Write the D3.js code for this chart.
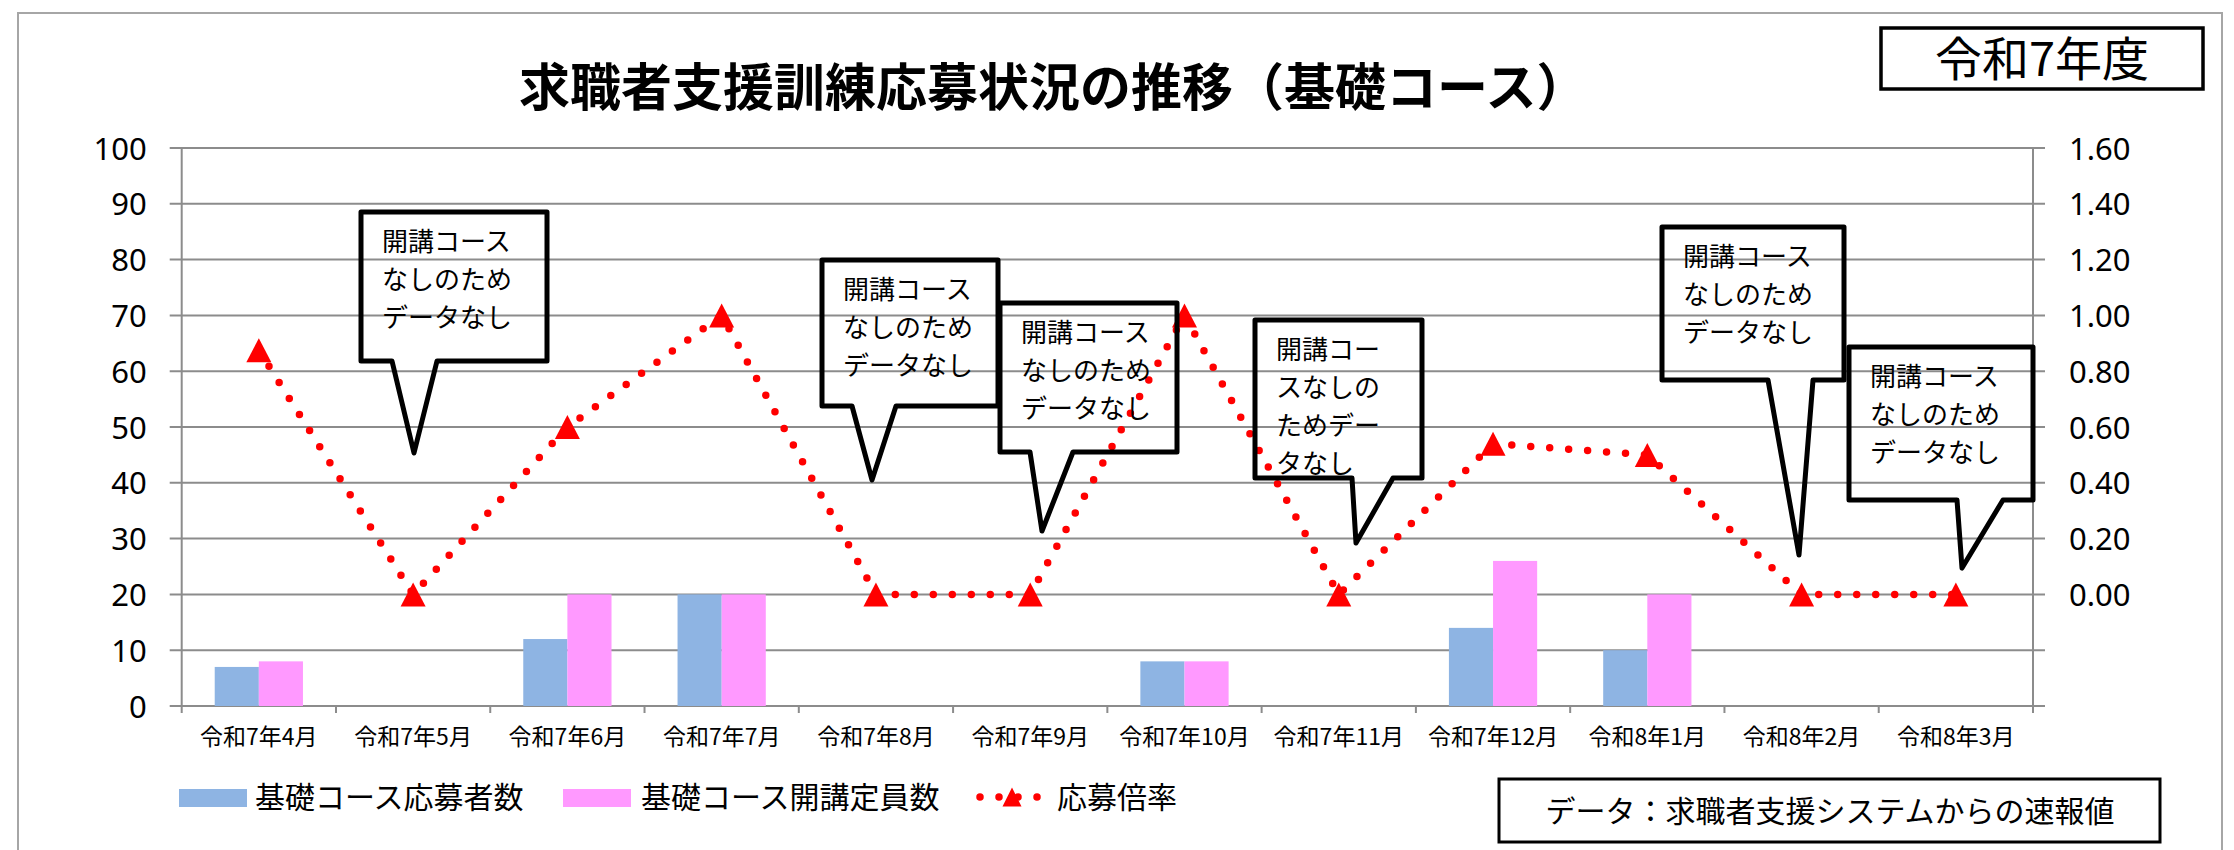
<!DOCTYPE html>
<html>
<head>
<meta charset="utf-8">
<script src="https://cdn.jsdelivr.net/npm/d3@7"></script>
<style>
  body { margin: 0; background: #fff; }
  text { font-family: "Noto Sans CJK JP", "Noto Sans", sans-serif; fill: #000; }
</style>
</head>
<body>
<div id="chart"></div>
<script>
// data
const months = ["令和7年4月", "令和7年5月", "令和7年6月", "令和7年7月", "令和7年8月", "令和7年9月",
  "令和7年10月", "令和7年11月", "令和7年12月", "令和8年1月", "令和8年2月", "令和8年3月"];
const applicants = [7, null, 12, 20, null, null, 8, null, 14, 10, null, null];
const capacity = [8, null, 20, 20, null, null, 8, null, 26, 20, null, null];
const ratio = [0.875, 0, 0.6, 1.0, 0, 0, 1.0, 0, 0.54, 0.5, 0, 0];
const leftTicks = [0, 10, 20, 30, 40, 50, 60, 70, 80, 90, 100];
const rightTicks = [0, 0.2, 0.4, 0.6, 0.8, 1.0, 1.2, 1.4, 1.6];
const seriesNames = ["基礎コース応募者数", "基礎コース開講定員数", "応募倍率"];
const noDataText = ["開講コース", "なしのため", "データなし"];
const noDataText4 = ["開講コー", "スなしの", "ためデー", "タなし"];

// callout boxes (annotation layout): box [x0,y0,x1,y1], pointer base [b0,b1], tip [x,y]
const callouts = [
  { box: [361, 212, 547, 361], base: [392, 437], tip: [414, 453], lines: noDataText },
  { box: [822, 260, 998, 406], base: [852, 896], tip: [872, 480], lines: noDataText },
  { box: [1000, 303, 1177, 452], base: [1030, 1073], tip: [1042, 531], lines: noDataText },
  { box: [1255, 320, 1422, 478], base: [1352, 1393], tip: [1356, 543], lines: noDataText4 },
  { box: [1662, 227, 1844, 380], base: [1768, 1813], tip: [1799, 555], lines: noDataText },
  { box: [1849, 347, 2033, 500], base: [1957, 2003], tip: [1962, 568], lines: noDataText },
];

const width = 2234, height = 850;
const plotLeft = 181.7, plotRight = 2033, plotTop = 148, plotBottom = 706;

const svg = d3.select("#chart").append("svg")
  .attr("width", width).attr("height", height);

svg.append("rect").attr("width", width).attr("height", height).attr("fill", "#fff");

// outer chart frame
svg.append("rect")
  .attr("x", 18).attr("y", 13).attr("width", 2222 - 18).attr("height", 900)
  .attr("fill", "none").attr("stroke", "#a6a6a6").attr("stroke-width", 2);

const x = d3.scaleBand().domain(months).range([plotLeft, plotRight]).padding(0);
const bw = x.bandwidth();
const x1 = d3.scaleBand().domain([0, 1]).range([bw * 0.214, bw * 0.786]).padding(0);
const yL = d3.scaleLinear().domain([0, 100]).range([plotBottom, plotTop]);
const yR = d3.scaleLinear().domain([-0.4, 1.6]).range([plotBottom, plotTop]);

// gridlines
svg.append("g").selectAll("line").data(leftTicks).enter().append("line")
  .attr("x1", plotLeft - 12).attr("x2", plotRight + 12)
  .attr("y1", (d) => yL(d)).attr("y2", (d) => yL(d))
  .attr("stroke", "#8c8c8c").attr("stroke-width", 2);

// axis lines + category ticks
svg.append("line").attr("x1", plotLeft).attr("x2", plotLeft).attr("y1", plotTop).attr("y2", plotBottom + 7)
  .attr("stroke", "#8c8c8c").attr("stroke-width", 2);
svg.append("line").attr("x1", plotRight).attr("x2", plotRight).attr("y1", plotTop).attr("y2", plotBottom + 7)
  .attr("stroke", "#8c8c8c").attr("stroke-width", 2);
svg.append("g").selectAll("line").data(months.slice(1)).enter().append("line")
  .attr("x1", (d) => x(d)).attr("x2", (d) => x(d))
  .attr("y1", plotBottom).attr("y2", plotBottom + 7)
  .attr("stroke", "#8c8c8c").attr("stroke-width", 2);

// left axis labels
const axL = svg.append("g").attr("transform", `translate(${plotLeft},0)`)
  .call(d3.axisLeft(yL).tickValues(leftTicks).tickSize(0).tickPadding(35));
axL.select(".domain").remove();
axL.selectAll("text").attr("font-size", 31).attr("dy", "0.36em")
  .style("font-family", "'Noto Sans', sans-serif");

// right axis labels
const axR = svg.append("g").attr("transform", `translate(${plotRight},0)`)
  .call(d3.axisRight(yR).tickValues(rightTicks).tickFormat(d3.format(".2f")).tickSize(0).tickPadding(36));
axR.select(".domain").remove();
axR.selectAll("text").attr("font-size", 31).attr("dy", "0.36em")
  .style("font-family", "'Noto Sans', sans-serif");

// bottom axis labels
const axB = svg.append("g").attr("transform", `translate(0,${plotBottom})`)
  .call(d3.axisBottom(x).tickSize(0).tickPadding(31));
axB.select(".domain").remove();
axB.selectAll("text").attr("font-size", 23).attr("dy", "0.36em");

// bars
const barData = months.map((m, i) => ({ m: m, vals: [applicants[i], capacity[i]] }));
const colors = ["#8EB4E3", "#FF99FF"];
svg.append("g").selectAll("g").data(barData).enter().append("g")
  .attr("transform", (d) => `translate(${x(d.m)},0)`)
  .selectAll("rect")
  .data((d) => d.vals.map((v, k) => ({ k: k, v: v })).filter((e) => e.v != null))
  .enter().append("rect")
  .attr("x", (e) => x1(e.k)).attr("width", x1.bandwidth())
  .attr("y", (e) => yL(e.v)).attr("height", (e) => yL(0) - yL(e.v))
  .attr("fill", (e) => colors[e.k]);

// ratio line
const cx = (i) => x(months[i]) + bw / 2;
const line = d3.line().x((d, i) => cx(i)).y((d) => yR(d));
svg.append("path").datum(ratio).attr("d", line)
  .attr("fill", "none").attr("stroke", "#FF0000").attr("stroke-width", 7.5)
  .attr("stroke-linecap", "round").attr("stroke-dasharray", "0 19");

const tri = (w, h) => `M0,${-h / 2}L${w / 2},${h / 2}L${-w / 2},${h / 2}Z`;
svg.append("g").selectAll("path").data(ratio).enter().append("path")
  .attr("d", tri(25, 24))
  .attr("transform", (d, i) => `translate(${cx(i)},${yR(d)})`)
  .attr("fill", "#FF0000");

// callouts
const co = svg.append("g").selectAll("g").data(callouts).enter().append("g");
co.append("path")
  .attr("d", (c) => {
    const [x0, y0, x2, y2] = c.box;
    return `M${x0},${y0}L${x2},${y0}L${x2},${y2}L${c.base[1]},${y2}L${c.tip[0]},${c.tip[1]}L${c.base[0]},${y2}L${x0},${y2}Z`;
  })
  .attr("fill", "none").attr("stroke", "#000").attr("stroke-width", 5)
  .attr("stroke-linejoin", "round");
co.selectAll("text").data((c) => c.lines.map((t, j) => ({ t: t, j: j, c: c }))).enter().append("text")
  .attr("x", (d) => d.c.box[0] + 21)
  .attr("y", (d) => d.c.box[1] + 30 + d.j * 38)
  .attr("dy", "0.36em").attr("font-size", 26)
  .text((d) => d.t);

// title
svg.append("text").attr("x", 519).attr("y", 88).attr("dy", "0.36em")
  .attr("font-size", 51).attr("font-weight", "bold")
  .text("求職者支援訓練応募状況の推移（基礎コース）");

// fiscal year box
svg.append("rect").attr("x", 1881).attr("y", 28).attr("width", 322).attr("height", 61)
  .attr("fill", "none").attr("stroke", "#000").attr("stroke-width", 3.5);
svg.append("text").attr("x", 2042).attr("y", 59).attr("dy", "0.36em")
  .attr("text-anchor", "middle").attr("font-size", 47).text("令和7年度");

// legend
const lg = svg.append("g");
lg.append("rect").attr("x", 179).attr("y", 789).attr("width", 68).attr("height", 18).attr("fill", colors[0]);
lg.append("text").attr("x", 255).attr("y", 797).attr("dy", "0.36em").attr("font-size", 30).text(seriesNames[0]);
lg.append("rect").attr("x", 563).attr("y", 789).attr("width", 68).attr("height", 18).attr("fill", colors[1]);
lg.append("text").attr("x", 641).attr("y", 797).attr("dy", "0.36em").attr("font-size", 30).text(seriesNames[1]);
lg.append("line").attr("x1", 980).attr("x2", 1040).attr("y1", 797).attr("y2", 797)
  .attr("stroke", "#FF0000").attr("stroke-width", 7.5)
  .attr("stroke-linecap", "round").attr("stroke-dasharray", "0 19");
lg.append("path").attr("d", tri(19, 19)).attr("transform", "translate(1012,797)").attr("fill", "#FF0000");
lg.append("text").attr("x", 1057).attr("y", 797).attr("dy", "0.36em").attr("font-size", 30).text(seriesNames[2]);

// source note
svg.append("rect").attr("x", 1499).attr("y", 779).attr("width", 661).attr("height", 63)
  .attr("fill", "none").attr("stroke", "#000").attr("stroke-width", 3);
svg.append("text").attr("x", 1830).attr("y", 811).attr("dy", "0.36em")
  .attr("text-anchor", "middle").attr("font-size", 30)
  .text("データ：求職者支援システムからの速報値");
</script>
</body>
</html>
